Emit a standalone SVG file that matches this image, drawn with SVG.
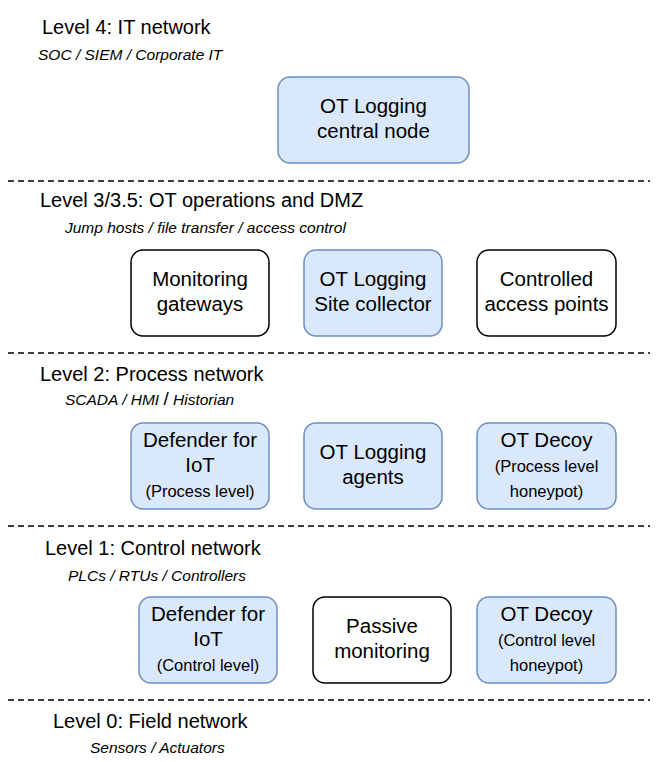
<svg xmlns="http://www.w3.org/2000/svg" width="658" height="762" viewBox="0 0 658 762">
<style>
.t{font-family:"Liberation Sans",Arial,sans-serif;font-size:20px;fill:#000}
.s{font-family:"Liberation Sans",Arial,sans-serif;font-size:15.5px;font-style:italic;fill:#000}
.b{fill:#dae8fc;stroke:#6c8ebf;stroke-width:1.5}
.w{fill:#fff;stroke:#000;stroke-width:1.5}
.n{font-family:"Liberation Sans",Arial,sans-serif;font-size:20.5px;fill:#000;text-anchor:middle}
.m{font-family:"Liberation Sans",Arial,sans-serif;font-size:16.5px;fill:#000;text-anchor:middle}
.d{stroke:#000;stroke-width:1.5;stroke-dasharray:6 4;fill:none}
</style>
<rect width="658" height="762" fill="#fff"/>
<g id="connectors">
<line class="d" x1="8" y1="181" x2="650" y2="181"/>
<line class="d" x1="8" y1="353" x2="650" y2="353"/>
<line class="d" x1="8" y1="526" x2="650" y2="526"/>
<line class="d" x1="8" y1="700" x2="650" y2="700"/>
</g>
<g id="labels">
<text class="t" x="42" y="34">Level 4: IT network</text>
<text class="s" x="38" y="60">SOC / SIEM / Corporate IT</text>
<text class="t" x="40" y="207">Level 3/3.5: OT operations and DMZ</text>
<text class="s" x="65" y="233">Jump hosts / file transfer /  access control</text>
<text class="t" x="40" y="381">Level 2: Process network</text>
<text class="s" x="65" y="405">SCADA / HMI <tspan font-style="normal" font-size="19">/</tspan> Historian</text>
<text class="t" x="45" y="555">Level 1: Control network</text>
<text class="s" x="68" y="581">PLCs / RTUs / Controllers</text>
<text class="t" x="53" y="728">Level 0: Field network</text>
<text class="s" x="90" y="753">Sensors / Actuators</text>
</g>
<g id="central"><rect class="b" x="278" y="77" width="191" height="86" rx="12"/><text class="n" x="373.5" y="113">OT Logging</text><text class="n" x="373.5" y="138">central node</text></g>
<g id="gateways"><rect class="w" x="131" y="250" width="138" height="86" rx="12"/><text class="n" x="200" y="286">Monitoring</text><text class="n" x="200" y="311">gateways</text></g>
<g id="collector"><rect class="b" x="304" y="250" width="138" height="86" rx="12"/><text class="n" x="373" y="286">OT Logging</text><text class="n" x="373" y="311">Site collector</text></g>
<g id="access"><rect class="w" x="477" y="250" width="139" height="86" rx="12"/><text class="n" x="546.5" y="286">Controlled</text><text class="n" x="546.5" y="311">access points</text></g>
<g id="dfi2"><rect class="b" x="131" y="423" width="138" height="86" rx="12"/><text class="n" x="200" y="447">Defender for</text><text class="n" x="200" y="472">IoT</text><text class="m" x="200" y="497">(Process level)</text></g>
<g id="agents"><rect class="b" x="304" y="423" width="138" height="86" rx="12"/><text class="n" x="373" y="459">OT Logging</text><text class="n" x="373" y="484">agents</text></g>
<g id="decoy2"><rect class="b" x="477" y="423" width="139" height="86" rx="12"/><text class="n" x="546.5" y="447">OT Decoy</text><text class="m" x="546.5" y="472">(Process level</text><text class="m" x="546.5" y="497">honeypot)</text></g>
<g id="dfi1"><rect class="b" x="139" y="597" width="138" height="86" rx="12"/><text class="n" x="208" y="621">Defender for</text><text class="n" x="208" y="646">IoT</text><text class="m" x="208" y="671">(Control level)</text></g>
<g id="passive"><rect class="w" x="313" y="597" width="138" height="86" rx="12"/><text class="n" x="382" y="633">Passive</text><text class="n" x="382" y="658">monitoring</text></g>
<g id="decoy1"><rect class="b" x="477" y="597" width="139" height="86" rx="12"/><text class="n" x="546.5" y="621">OT Decoy</text><text class="m" x="546.5" y="646">(Control level</text><text class="m" x="546.5" y="671">honeypot)</text></g>
</svg>
